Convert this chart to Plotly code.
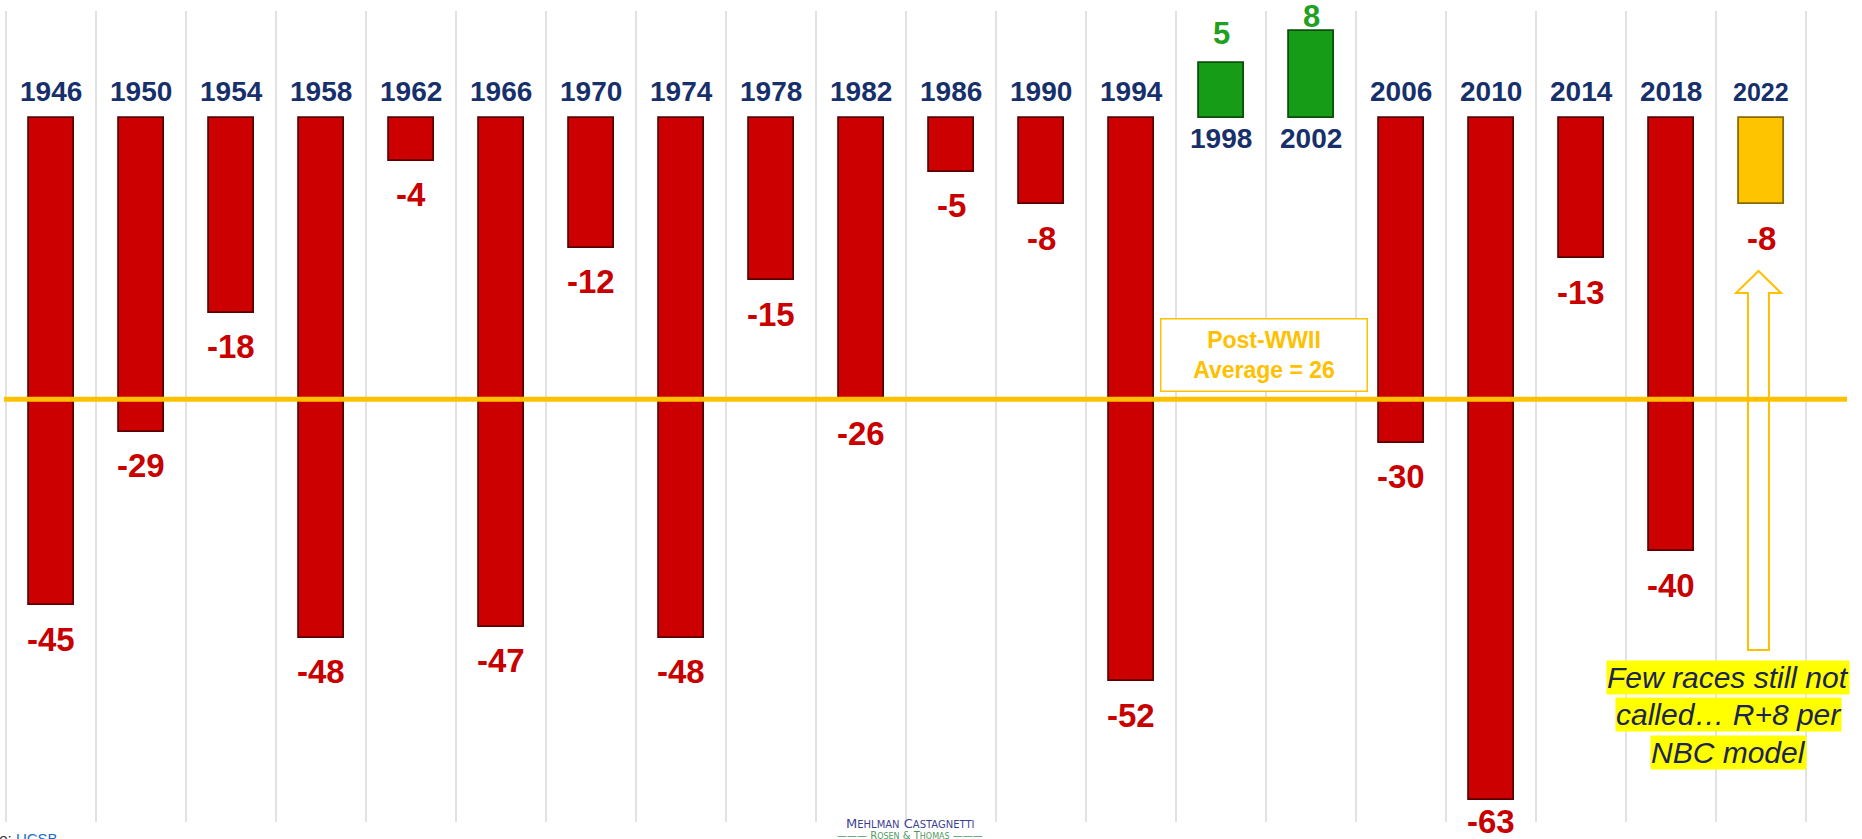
import plotly.graph_objects as go

# ---------------- data ----------------
years = ["1946", "1950", "1954", "1958", "1962", "1966", "1970", "1974", "1978", "1982",
         "1986", "1990", "1994", "1998", "2002", "2006", "2010", "2014", "2018", "2022"]
seat_change = [-45, -29, -18, -48, -4, -47, -12, -48, -15, -26,
               -5, -8, -52, 5, 8, -30, -63, -13, -40, -8]
projected = [False] * 19 + [True]
postwar_average = -26
average_label = "Post-WWII<br>Average = 26"
note_lines = ["Few races still not", "called\u2026 R+8 per", "NBC model"]

# ---------------- layout constants ----------------
W, H = 1862, 839
M_T, M_B = 11, 17
PLOT_H = H - M_T - M_B
Y_RANGE = [-65.0, 9.83]
X_RANGE = [-0.5667, 20.1222]
PX_PER_UNIT = PLOT_H / (Y_RANGE[1] - Y_RANGE[0])

RED, GREEN, GOLD = "#cc0000", "#169c16", "#ffc400"
NAVY = "#17306b"
AVG = "#ffc000"
FONT = "Arial, Liberation Sans, sans-serif"

idx = list(range(len(years)))
colors, edges = [], []
for v, p in zip(seat_change, projected):
    if p:
        colors.append(GOLD); edges.append("#8a6a00")
    elif v < 0:
        colors.append(RED); edges.append("#5a0000")
    else:
        colors.append(GREEN); edges.append("#0a4f0a")

fig = go.Figure()
fig.add_trace(go.Bar(
    x=idx, y=seat_change, width=0.5,
    marker=dict(color=colors, line=dict(color=edges, width=1.8)),
    hoverinfo="x+y", showlegend=False,
))

def y_px(v):
    return M_T + (Y_RANGE[1] - v) * PX_PER_UNIT

annotations = []
for i, (yr, v, p) in enumerate(zip(years, seat_change, projected)):
    if v < 0:
        annotations.append(dict(x=i, y=0, xref="x", yref="y", text=f"<b>{yr}</b>",
                                showarrow=False, yanchor="middle", yshift=26,
                                font=dict(family=FONT, size=25 if p else 28, color=NAVY)))
        c = y_px(v) + 34
        c = min(c, H - M_B)
        annotations.append(dict(x=i, y=v, xref="x", yref="y", text=f"<b>{v}</b>",
                                showarrow=False, yanchor="middle",
                                yshift=-(c - y_px(v)),
                                font=dict(family=FONT, size=33, color="#c80000")))
    else:
        annotations.append(dict(x=i, y=0, xref="x", yref="y", text=f"<b>{yr}</b>",
                                showarrow=False, yanchor="middle", yshift=-21,
                                font=dict(family=FONT, size=28, color=NAVY)))
        c = y_px(v) - 30
        c = max(c, 17)
        annotations.append(dict(x=i, y=v, xref="x", yref="y", text=f"<b>{v}</b>",
                                showarrow=False, yanchor="middle",
                                yshift=(y_px(v) - c),
                                font=dict(family=FONT, size=31, color="#1fa01f")))

def px_x(px):
    return px / W

def px_y(py):
    return (H - M_B - py) / PLOT_H

annotations.append(dict(x=px_x(1263.5), y=px_y(354.5), xref="paper", yref="paper",
                        text=f"<b>{average_label}</b>", showarrow=False,
                        xanchor="center", yanchor="middle", width=203, height=69,
                        bgcolor="white", bordercolor=AVG, borderwidth=1.5,
                        font=dict(family=FONT, size=23, color=AVG)))

for line, cy in zip(note_lines, [677, 714, 752]):
    annotations.append(dict(x=px_x(1728), y=px_y(cy), xref="paper", yref="paper",
                            text=f"<i>{line}</i>", showarrow=False,
                            xanchor="center", yanchor="middle",
                            bgcolor="#ffff00", borderpad=0,
                            font=dict(family=FONT, size=30, color="#1c2452")))

annotations.append(dict(x=px_x(910), y=px_y(823), xref="paper", yref="paper",
                        text="M<span style='font-size:10px'>EHLMAN</span> C<span style='font-size:10px'>ASTAGNETTI</span>",
                        showarrow=False, xanchor="center", yanchor="middle",
                        font=dict(family="DejaVu Sans, sans-serif", size=13, color="#3c3f94")))
annotations.append(dict(x=px_x(910), y=px_y(836), xref="paper", yref="paper",
                        text="\u2014\u2014\u2014 R<span style='font-size:8px'>OSEN</span> &amp; T<span style='font-size:8px'>HOMAS</span> \u2014\u2014\u2014",
                        showarrow=False, xanchor="center", yanchor="middle",
                        font=dict(family="DejaVu Sans, sans-serif", size=10, color="#4f9a62")))
annotations.append(dict(x=px_x(60), y=px_y(828), xref="paper", yref="paper",
                        text="Source: <span style='color:#1a6fc4'>UCSB</span>",
                        showarrow=False, xanchor="right", yanchor="top",
                        font=dict(family=FONT, size=15, color="#333333")))

shapes = [
    dict(type="line", xref="paper", yref="y", x0=px_x(4), x1=px_x(1847),
         y0=postwar_average, y1=postwar_average, line=dict(color=AVG, width=5), layer="above"),
]
ax = px_x
ay = px_y
path = (f"M {ax(1748)} {ay(650)} L {ax(1748)} {ay(293)} L {ax(1736)} {ay(293)} "
        f"L {ax(1758.5)} {ay(271)} L {ax(1781)} {ay(293)} L {ax(1769)} {ay(293)} "
        f"L {ax(1769)} {ay(650)} Z")
shapes.append(dict(type="path", xref="paper", yref="paper", path=path,
                   line=dict(color=AVG, width=2), fillcolor="rgba(0,0,0,0)", layer="below"))

fig.update_layout(
    width=W, height=H,
    margin=dict(l=0, r=0, t=M_T, b=M_B),
    paper_bgcolor="white", plot_bgcolor="white",
    xaxis=dict(range=X_RANGE, tick0=-0.5, dtick=1, showgrid=True, gridcolor="#e2e2e2",
               gridwidth=2, showticklabels=False, zeroline=False, showline=False, ticks=""),
    yaxis=dict(range=Y_RANGE, showgrid=False, zeroline=False, showticklabels=False,
               showline=False, ticks=""),
    annotations=annotations, shapes=shapes, bargap=0,
)
fig.update_traces(cliponaxis=False)

fig.write_html("out.html", config={"displayModeBar": False},
               post_script="document.body.style.margin='0px';document.body.style.overflow='hidden';")
